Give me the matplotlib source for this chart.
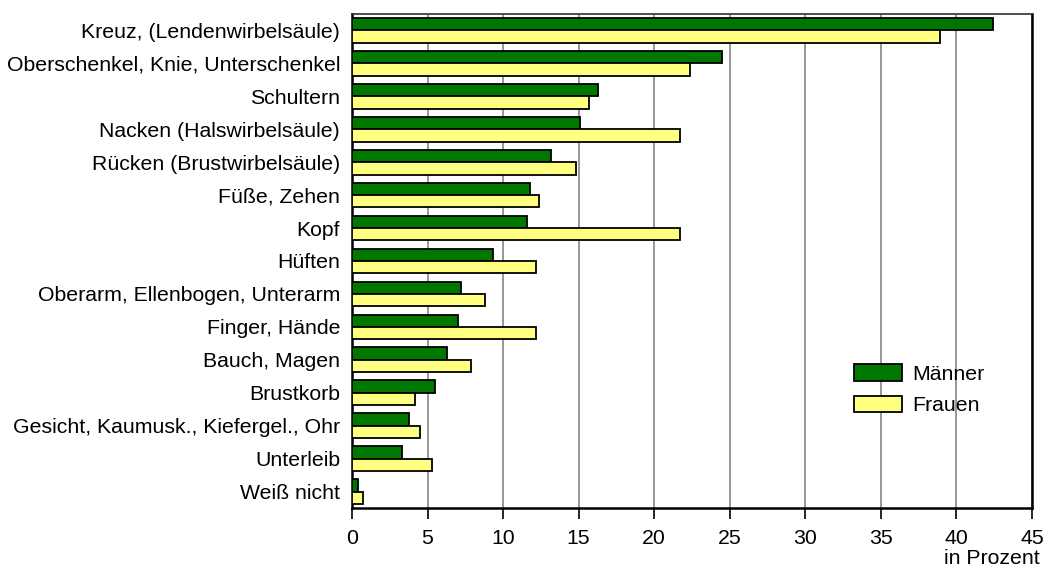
import matplotlib
matplotlib.use("Agg")
import matplotlib.pyplot as plt
import numpy as np

plt.rcParams['font.family'] = ['Liberation Sans', 'DejaVu Sans']

categories = ["Kreuz, (Lendenwirbelsäule)", "Oberschenkel, Knie, Unterschenkel", "Schultern",
              "Nacken (Halswirbelsäule)", "Rücken (Brustwirbelsäule)", "Füße, Zehen", "Kopf",
              "Hüften", "Oberarm, Ellenbogen, Unterarm", "Finger, Hände", "Bauch, Magen",
              "Brustkorb", "Gesicht, Kaumusk., Kiefergel., Ohr", "Unterleib", "Weiß nicht"]
maenner = [42.4, 24.5, 16.3, 15.1, 13.2, 11.8, 11.6, 9.3, 7.2, 7.0, 6.3, 5.5, 3.8, 3.3, 0.4]
frauen = [38.9, 22.4, 15.7, 21.7, 14.8, 12.4, 21.7, 12.2, 8.8, 12.2, 7.9, 4.2, 4.5, 5.3, 0.7]
xticks = [0, 5, 10, 15, 20, 25, 30, 35, 40, 45]

FS = 15.3
fig = plt.figure(figsize=(10.46, 5.70), dpi=100)
ax = fig.add_axes([352/1046, 1 - 508/570, 680/1046, 494/570])

y = np.arange(len(categories))
h = 0.375
ax.barh(y - h/2, maenner, height=h, color='#007800', edgecolor='black', linewidth=1.3,
        label='Männer', zorder=3)
ax.barh(y + h/2, frauen, height=h, color='#ffff80', edgecolor='black', linewidth=1.3,
        label='Frauen', zorder=3)

ax.set_xlim(0, 45)
ax.set_ylim(len(categories) - 0.5, -0.5)
ax.set_yticks(y)
ax.set_yticklabels(categories, fontsize=FS)
ax.tick_params(axis='y', length=0, pad=8.5)
ax.set_xticks(xticks)
ax.set_xticklabels([str(t) for t in xticks], fontsize=FS)
ax.tick_params(axis='x', length=8, width=1.2, direction='out', pad=7)
ax.xaxis.grid(True, color='#909090', linewidth=1.3, zorder=0)
ax.set_axisbelow(True)
for s in ['left', 'bottom', 'right']:
    ax.spines[s].set_linewidth(1.8)
    ax.spines[s].set_color('black')
ax.spines['top'].set_linewidth(1.2)
ax.spines['top'].set_color('#303030')

fig.text(1040/1046, 1 - 558/570, 'in Prozent', ha='right', va='center', fontsize=FS)

leg = ax.legend(loc='upper left', bbox_to_anchor=((854-352)/680, (508-364)/494),
                frameon=False, fontsize=FS, handlelength=2.25, handleheight=0.85,
                labelspacing=0.55, handletextpad=0.5, borderpad=0, borderaxespad=0)

fig.savefig('out.png', dpi=100)
